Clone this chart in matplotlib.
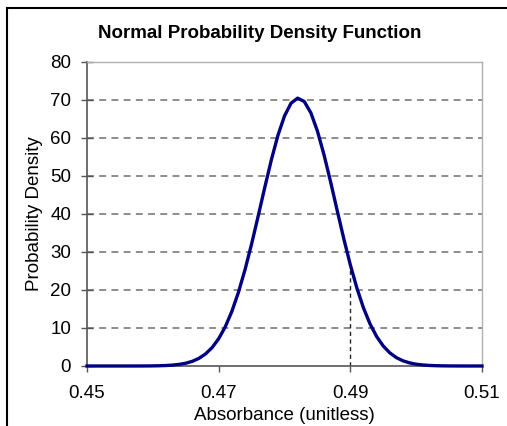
import matplotlib.pyplot as plt
from matplotlib.patches import Rectangle

# absorbance values
absorbance = [0.450, 0.452, 0.454, 0.456, 0.458, 0.459,
              0.460, 0.461, 0.462, 0.463, 0.464, 0.465, 0.466, 0.467, 0.468, 0.469,
              0.470, 0.471, 0.472, 0.473, 0.474, 0.475, 0.476, 0.477, 0.478, 0.479,
              0.480, 0.481, 0.482, 0.483, 0.484, 0.485, 0.486, 0.487, 0.488, 0.489,
              0.490, 0.491, 0.492, 0.493, 0.494, 0.495, 0.496, 0.497, 0.498, 0.499,
              0.500, 0.501, 0.502, 0.503, 0.504, 0.505, 0.506, 0.508, 0.510]
density = [0.0, 0.0, 0.0, 0.0, 0.005, 0.013,
           0.03, 0.07, 0.13, 0.24, 0.42, 0.73, 1.23, 2.01, 3.17, 4.84,
           7.18, 10.31, 14.35, 19.37, 25.33, 32.10, 39.44, 46.97, 54.23, 60.68,
           65.81, 69.18, 70.49, 69.61, 66.64, 61.83, 55.60, 48.47, 40.95, 33.53,
           26.61, 20.48, 15.27, 11.04, 7.74, 5.25, 3.46, 2.20, 1.36, 0.82,
           0.47, 0.27, 0.15, 0.08, 0.04, 0.02, 0.01, 0.0, 0.0]
marker_x = 0.49
marker_y = 26.61

plt.rcParams['font.family'] = ['Liberation Sans', 'DejaVu Sans']

fig = plt.figure(figsize=(5.07, 4.26), dpi=100)
ax = fig.add_axes([87/507, 60/426, 395/507, 304/426])

ax.set_xlim(0.45, 0.51)
ax.set_ylim(0, 80)
ax.set_xticks([0.45, 0.47, 0.49, 0.51])
ax.set_xticklabels(['0.45', '0.47', '0.49', '0.51'])
ax.set_yticks(range(0, 81, 10))

for v in range(10, 81, 10):
    ax.axhline(v, color='#6e6e6e', lw=1.1, ls=(0, (4.5, 3.5)), zorder=1)

ax.plot([marker_x, marker_x], [0, marker_y], color='#222222', lw=1.0,
        ls=(0, (3, 2.5)), zorder=2)
ax.plot(absorbance, density, color='#000080', lw=2.4, zorder=3,
        solid_joinstyle='round', clip_on=False)

for s in ['top', 'right']:
    ax.spines[s].set_color('#b0b0b0')
    ax.spines[s].set_linewidth(1.0)
for s in ['left', 'bottom']:
    ax.spines[s].set_color('#555555')
    ax.spines[s].set_linewidth(1.2)

ax.tick_params(axis='y', direction='inout', length=9, width=1, color='#555555',
               labelsize=13.5, pad=7)
ax.tick_params(axis='x', direction='out', length=4, width=1, color='#555555',
               labelsize=13.5, pad=10)

ax.set_xlabel('Absorbance (unitless)', fontsize=13.5, labelpad=3)
ax.set_ylabel('Probability Density', fontsize=13.5, labelpad=5)

fig.text(260/507, 1 - 33/426, 'Normal Probability Density Function',
         ha='center', va='center', fontsize=13.5, fontweight='bold')

# chart frame (right and bottom edges fall outside the picture)
fig.add_artist(Rectangle((7/507, -0.05), 1.0, 1 - 8/426 + 0.05,
                         transform=fig.transFigure, fill=False,
                         edgecolor='black', lw=1.5))

fig.savefig('out.png', dpi=100)
